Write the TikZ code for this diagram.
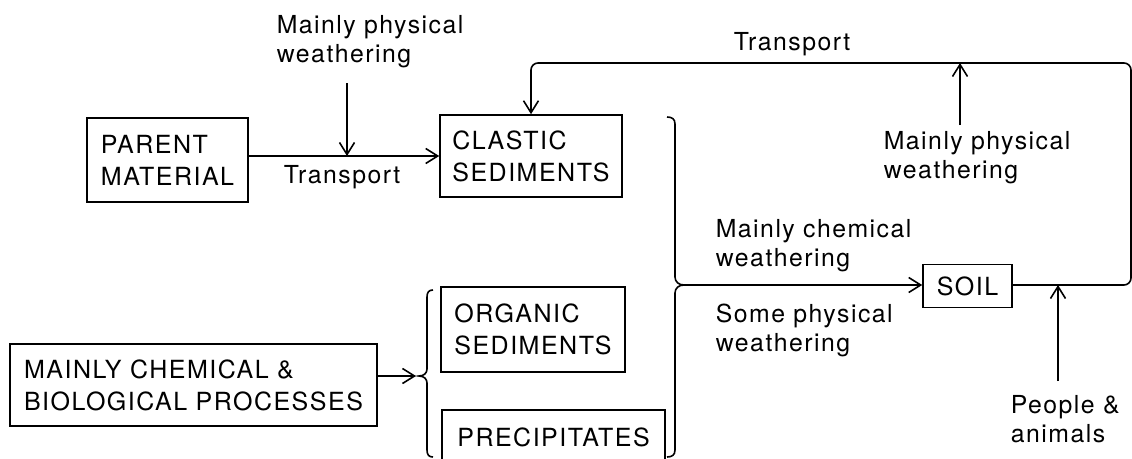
\documentclass[tikz,border=0pt]{standalone}
\usepackage{fontspec}
\setmainfont{TeX Gyre Heros}[LetterSpace=6]
\usetikzlibrary{arrows.meta}
\begin{document}
\begin{tikzpicture}[x=1pt,y=-1pt,line width=1.6pt,
  box/.style={draw,rectangle,inner sep=0pt,align=left,font=\fontsize{25}{32}\selectfont},
  lbl/.style={anchor=north west,inner sep=0pt,align=left,font=\fontsize{24.8}{29}\selectfont},
  arr/.style={-{Straight Barb[length=12pt,width=15pt]}}]
\useasboundingbox (0,0) rectangle (1132,458);
\clip (0,0) rectangle (1132,458);
% boxes
\node[box,minimum width=161pt,minimum height=84pt] (parent) at (167.5,160) {PARENT\\MATERIAL};
\node[box,minimum width=182pt,minimum height=82pt] (clastic) at (531,156) {CLASTIC\\SEDIMENTS};
\node[box,minimum width=184pt,minimum height=85pt] (organic) at (533,329.5) {ORGANIC\\SEDIMENTS};
\node[box,minimum width=223pt,minimum height=54pt] (precip) at (553.5,437) {PRECIPITATES};
\node[box,minimum width=367pt,minimum height=82pt] (chem) at (193.5,385) {MAINLY CHEMICAL \&\\BIOLOGICAL PROCESSES};
\node[box,minimum width=89pt,minimum height=43pt] (soil) at (967.5,286) {SOIL};
% labels
\node[lbl] (mpw1) at (276,15) {Mainly physical\\weathering};
\node[lbl] (tr1) at (283,165) {Transport};
\node[lbl] (tr2) at (733,32) {Transport};
\node[lbl] (mpw2) at (883,131) {Mainly physical\\weathering};
\node[lbl] (mcw) at (715,219) {Mainly chemical\\weathering};
\node[lbl] (spw) at (715,303) {Some physical\\weathering};
\node[lbl] (pa) at (1010,395) {People \&\\animals};
% coordinates
\coordinate (rbtip) at (684,285);
\coordinate (lbtip) at (416,376);
\coordinate (w1s) at (347,83);
\coordinate (w2s) at (960,125);
\coordinate (pas) at (1058,381);
\coordinate (loopR) at (1131,285);
\coordinate (loopT) at (1131,63);
% braces
\draw (667,117) .. controls (672,117) and (675,119) .. (675,124) -- (675,277)
  .. controls (675,282) and (679,285) .. (rbtip)
  .. controls (679,285) and (675,288) .. (675,293) -- (675,450)
  .. controls (675,455) and (672,457) .. (667,457);
\draw (433,290) .. controls (429,290) and (427,292) .. (427,297) -- (427,369)
  .. controls (427,373) and (424,376) .. (419,376)
  .. controls (424,376) and (427,379) .. (427,383) -- (427,450)
  .. controls (427,455) and (429,457) .. (433,457);
% connectors
\draw[arr] (parent.east |- clastic.west) -- (clastic.west);
\draw[arr] (w1s) -- (w1s |- clastic.west);
\draw[arr] (chem.east |- lbtip) -- (lbtip);
\draw[arr] (rbtip) -- (rbtip -| soil.west);
\draw[arr,rounded corners=7pt] (rbtip -| soil.east) -- (loopR) -- (loopT) -- (clastic.north |- loopT) -- (clastic.north);
\draw[arr] (w2s) -- (w2s |- loopT);
\draw[arr] (pas) -- (pas |- rbtip);
\end{tikzpicture}
\end{document}
